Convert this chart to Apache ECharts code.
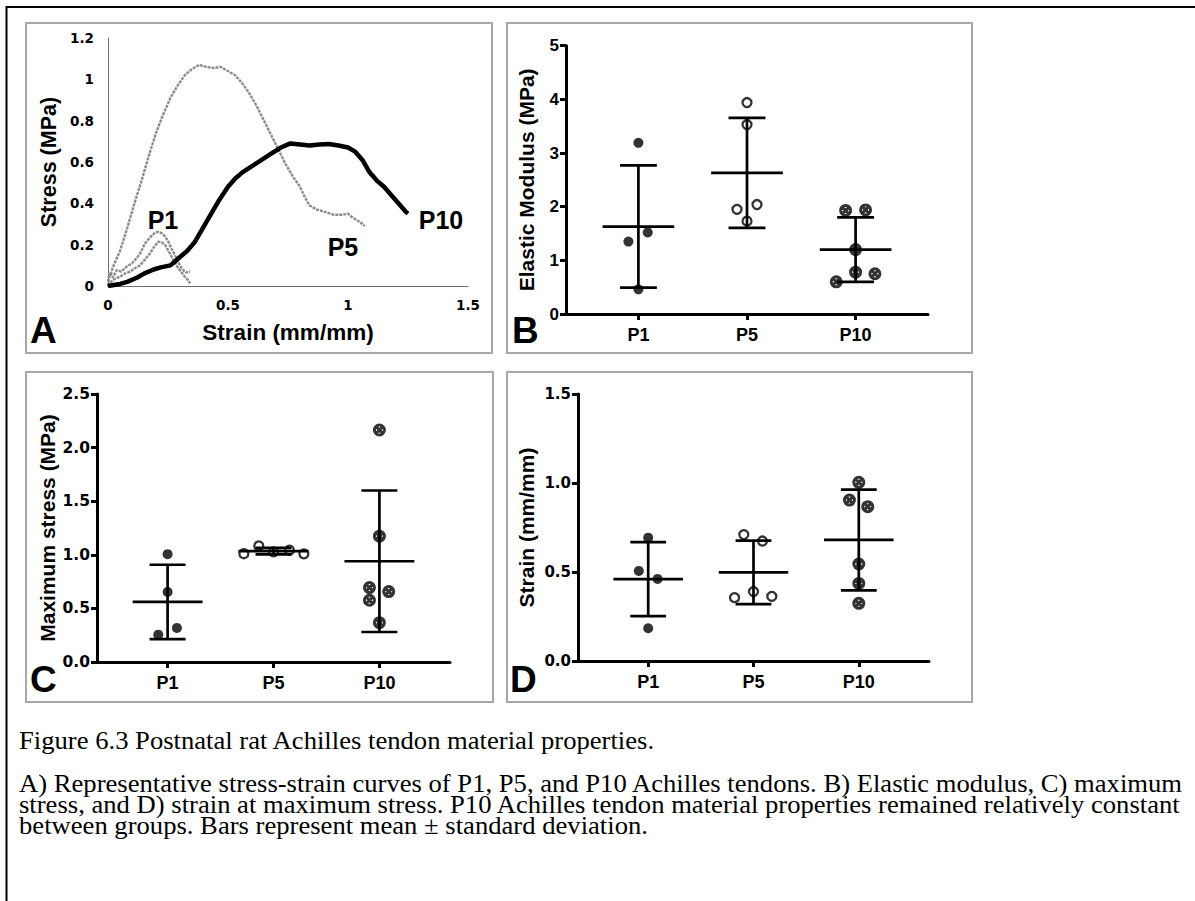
<!DOCTYPE html>
<html><head><meta charset="utf-8">
<script src="https://cdn.jsdelivr.net/npm/echarts@6/dist/echarts.min.js"></script>
<style>html,body{margin:0;padding:0;background:#fff;}#c{width:1195px;height:901px;}</style>
</head><body><div id="c"></div>
<script>
// ---------- DATA ----------
const groups = ['P1', 'P5', 'P10'];

// Panel A: representative stress-strain curves [strain (mm/mm), stress (MPa)]
const curveP1a = [[0,0.02],[0.01,0.06],[0.02,0.04],[0.036,0.077],[0.055,0.07],[0.078,0.094],[0.10,0.11],[0.119,0.134],[0.135,0.16],[0.154,0.206],[0.175,0.235],[0.196,0.258],[0.21,0.262],[0.224,0.255],[0.238,0.24],[0.251,0.215],[0.265,0.18],[0.279,0.15],[0.293,0.115],[0.307,0.085],[0.325,0.065],[0.342,0.07]];
const curveP1b = [[0,0],[0.02,0.03],[0.05,0.045],[0.07,0.06],[0.092,0.069],[0.11,0.085],[0.133,0.1],[0.155,0.13],[0.175,0.158],[0.193,0.19],[0.21,0.215],[0.225,0.21],[0.238,0.198],[0.252,0.17],[0.265,0.142],[0.28,0.11],[0.293,0.085],[0.307,0.065],[0.32,0.045],[0.332,0.03],[0.342,0.013]];
const curveP5 = [[0,0],[0.005,0.06],[0.01,0.05],[0.02,0.09],[0.05,0.17],[0.08,0.28],[0.11,0.40],[0.14,0.51],[0.17,0.63],[0.20,0.74],[0.23,0.83],[0.26,0.91],[0.29,0.97],[0.32,1.02],[0.35,1.05],[0.38,1.07],[0.41,1.06],[0.44,1.055],[0.47,1.06],[0.50,1.04],[0.53,1.02],[0.56,0.98],[0.59,0.93],[0.62,0.87],[0.65,0.80],[0.68,0.73],[0.71,0.66],[0.74,0.59],[0.77,0.53],[0.80,0.48],[0.82,0.43],[0.84,0.39],[0.87,0.37],[0.90,0.36],[0.94,0.345],[0.98,0.345],[1.00,0.35],[1.02,0.33],[1.05,0.31],[1.07,0.29]];
const curveP10 = [[0,0],[0.05,0.01],[0.08,0.02],[0.12,0.04],[0.15,0.06],[0.19,0.08],[0.22,0.09],[0.26,0.10],[0.28,0.12],[0.30,0.14],[0.33,0.17],[0.36,0.21],[0.40,0.29],[0.43,0.35],[0.46,0.41],[0.50,0.48],[0.53,0.52],[0.56,0.55],[0.60,0.58],[0.64,0.61],[0.68,0.64],[0.72,0.67],[0.76,0.69],[0.80,0.685],[0.84,0.68],[0.88,0.685],[0.92,0.687],[0.96,0.68],[1.00,0.67],[1.03,0.65],[1.06,0.61],[1.09,0.55],[1.12,0.51],[1.15,0.48],[1.18,0.44],[1.21,0.40],[1.24,0.36],[1.25,0.35]];
// curve annotation labels [text, strain, stress]
const curveLabels = [['P1',0.229,0.319],['P5',0.979,0.189],['P10',1.3875,0.319]];

// Panel B: elastic modulus (MPa)
const modP1 = [3.19,1.35,1.52,0.46];
const modP1Jit = [0,-0.092,0.086,0];
const modP5 = [3.94,3.53,1.95,2.04,1.73];
const modP5Jit = [0,0,-0.092,0.092,0];
const modP10 = [1.93,1.94,1.20,0.78,0.75,0.60];
const modP10Jit = [-0.092,0.092,0,0,0.178,-0.178];
const modMean = [1.63,2.63,1.20];
const modSD = [1.14,1.025,0.60];

// Panel C: maximum stress (MPa)
const msP1 = [1.006,0.654,0.318,0.255];
const msP1Jit = [0,0,0.088,-0.088];
const msP5 = [1.01,1.083,1.027,1.043,1.009];
const msP5Jit = [-0.28,-0.139,0,0.151,0.287];
const msP10 = [2.164,1.174,0.694,0.657,0.576,0.367];
const msP10Jit = [0,0,-0.094,0.088,-0.094,0];
const msMean = [0.56,1.034,0.94];
const msSD = [0.347,0.03,0.66];

// Panel D: strain at maximum stress (mm/mm)
const stP1 = [0.693,0.506,0.461,0.184];
const stP1Jit = [0,-0.089,0.089,0];
const stP5 = [0.71,0.674,0.356,0.39,0.363];
const stP5Jit = [-0.092,0.085,-0.18,0,0.174];
const stP10 = [1.004,0.904,0.867,0.545,0.436,0.324];
const stP10Jit = [0,-0.089,0.085,0,0,0];
const stMean = [0.46,0.498,0.68];
const stSD = [0.208,0.178,0.283];

const captionLines = [
  'Figure 6.3 Postnatal rat Achilles tendon material properties.',
  'A) Representative stress-strain curves of P1, P5, and P10 Achilles tendons. B) Elastic modulus, C) maximum',
  'stress, and D) strain at maximum stress. P10 Achilles tendon material properties remained relatively constant',
  'between groups. Bars represent mean \u00b1 standard deviation.'
];

// ---------- CHART ----------
const SANS = 'Liberation Sans, Arial, sans-serif';
const WIDE = 'DejaVu Sans, sans-serif';
const SERIF = 'Liberation Serif, Times New Roman, serif';
const MEAN_HALF = 0.33, CAP_HALF = 0.17;
const crossSymbol = 'path://M10 0A10 10 0 1 1 10 20A10 10 0 1 1 10 0Z M3 3L17 17 M17 3L3 17';

function pts(vals, jit, idx) { return vals.map((v, i) => [idx + 1 + jit[i], v]); }

function errRender(params, api) {
  const x = api.value(0), m = api.value(1), s = api.value(2);
  const p = (a, b) => api.coord([a, b]);
  const st = { stroke: '#000', lineWidth: 2.7, fill: null };
  const L = (a, b) => ({ type: 'line', shape: { x1: a[0], y1: a[1], x2: b[0], y2: b[1] }, style: st });
  return { type: 'group', children: [
    L(p(x - MEAN_HALF, m), p(x + MEAN_HALF, m)),
    L(p(x, m - s), p(x, m + s)),
    L(p(x - CAP_HALF, m + s), p(x + CAP_HALF, m + s)),
    L(p(x - CAP_HALF, m - s), p(x + CAP_HALF, m - s))
  ]};
}

function catX(gi) {
  return {
    type: 'value', gridIndex: gi, min: 1/3, max: 11/3,
    axisLine: { show: true, onZero: false, lineStyle: { color: '#000', width: 3 } },
    axisTick: { show: true, customValues: [1,2,3], length: 6, lineStyle: { color: '#000', width: 3 } },
    axisLabel: { customValues: [1,2,3], formatter: v => groups[Math.round(v) - 1], margin: 12,
      color: '#000', fontWeight: 'bold', fontSize: 18, fontFamily: SANS },
    splitLine: { show: false }
  };
}
function valY(gi, max, interval, name, gap, dec, lblFont, lblSize) {
  return {
    type: 'value', gridIndex: gi, min: 0, max: max, interval: interval,
    name: name, nameLocation: 'middle', nameGap: gap,
    nameTextStyle: { color: '#000', fontWeight: 'bold', fontSize: 21, fontFamily: SANS },
    axisLine: { show: true, onZero: false, lineStyle: { color: '#000', width: 3 } },
    axisTick: { show: true, length: 6, lineStyle: { color: '#000', width: 3 } },
    axisLabel: { formatter: v => v.toFixed(dec), margin: 7, color: '#000', fontWeight: 'bold', fontSize: lblSize, fontFamily: lblFont },
    splitLine: { show: false }
  };
}

function dotSeries(gi, data, kind) {
  const base = { type: 'scatter', xAxisIndex: gi, yAxisIndex: gi, data: data, z: 2, silent: true };
  if (kind === 0) return Object.assign(base, { symbol: 'circle', symbolSize: 10, itemStyle: { color: '#000' } });
  if (kind === 1) return Object.assign(base, { symbol: 'circle', symbolSize: 9, itemStyle: { color: '#fff', borderColor: '#000', borderWidth: 2.3 } });
  return Object.assign(base, { symbol: crossSymbol, symbolSize: 10, itemStyle: { color: '#fff', borderColor: '#000', borderWidth: 3 } });
}
function errSeries(gi, mean, sd) {
  return { type: 'custom', xAxisIndex: gi, yAxisIndex: gi, z: 5, silent: true, renderItem: errRender,
    data: groups.map((g, i) => [i + 1, mean[i], sd[i]]) };
}

const chart = echarts.init(document.getElementById('c'), null, { renderer: 'svg' });

const panelBox = (x, y, w, h) => ({ type: 'rect', shape: { x: x, y: y, width: w, height: h }, style: { fill: 'none', stroke: '#a8a8a8', lineWidth: 2 }, z: 0 });
const letter = (t, x, y) => ({ type: 'text', x: x, y: y, style: { text: t, fill: '#000', fontSize: 37, fontWeight: 'bold', fontFamily: SANS, textAlign: 'left', textVerticalAlign: 'middle' }, z: 10 });

const option = {
  backgroundColor: '#fff',
  animation: false,
  grid: [
    { left: 108, top: 38, width: 360, height: 248 },
    { left: 566, top: 45.7, width: 362, height: 268.3 },
    { left: 97, top: 394, width: 353, height: 268 },
    { left: 578, top: 394, width: 351, height: 267 }
  ],
  xAxis: [
    { type: 'value', gridIndex: 0, min: 0, max: 1.5, interval: 0.5,
      name: 'Strain (mm/mm)', nameLocation: 'middle', nameGap: 35,
      nameTextStyle: { color: '#000', fontWeight: 'bold', fontSize: 22.5, fontFamily: SANS },
      axisLine: { show: true, onZero: false, lineStyle: { color: '#6e6e6e', width: 1 } },
      axisTick: { show: false },
      axisLabel: { formatter: v => String(+v.toFixed(1)), margin: 12, color: '#000', fontWeight: 'bold', fontSize: 13.5, fontFamily: WIDE },
      splitLine: { show: false } },
    catX(1), catX(2), catX(3)
  ],
  yAxis: [
    { type: 'value', gridIndex: 0, min: 0, max: 1.2, interval: 0.2,
      name: 'Stress (MPa)', nameLocation: 'middle', nameGap: 48,
      nameTextStyle: { color: '#000', fontWeight: 'bold', fontSize: 21.5, fontFamily: SANS },
      axisLine: { show: true, onZero: false, lineStyle: { color: '#6e6e6e', width: 1 } },
      axisTick: { show: false },
      axisLabel: { formatter: v => String(+v.toFixed(1)), margin: 14, color: '#000', fontWeight: 'bold', fontSize: 13.5, fontFamily: WIDE },
      splitLine: { show: false } },
    valY(1, 5, 1, 'Elastic Modulus (MPa)', 29, 0, SANS, 17),
    valY(2, 2.5, 0.5, 'Maximum stress (MPa)', 39, 1, WIDE, 15.5),
    valY(3, 1.5, 0.5, 'Strain (mm/mm)', 41, 1, WIDE, 15)
  ],
  series: [
    { type: 'line', name: 'P5', xAxisIndex: 0, yAxisIndex: 0, data: curveP5, showSymbol: false, symbol: 'none', lineStyle: { color: '#8c8c8c', width: 2.4, type: [3, 1] }, z: 2 },
    { type: 'line', name: 'P1a', xAxisIndex: 0, yAxisIndex: 0, data: curveP1a, showSymbol: false, symbol: 'none', lineStyle: { color: '#8c8c8c', width: 2.4, type: [3, 1] }, z: 2 },
    { type: 'line', name: 'P1b', xAxisIndex: 0, yAxisIndex: 0, data: curveP1b, showSymbol: false, symbol: 'none', lineStyle: { color: '#8c8c8c', width: 2.4, type: [3, 1] }, z: 2 },
    { type: 'line', name: 'P10', xAxisIndex: 0, yAxisIndex: 0, data: curveP10, showSymbol: false, symbol: 'none', lineStyle: { color: '#000', width: 4.5 }, z: 3 },
    { type: 'scatter', xAxisIndex: 0, yAxisIndex: 0, symbolSize: 0.01, itemStyle: { color: '#000' }, z: 4, silent: true,
      data: curveLabels.map(c => ({ name: c[0], value: [c[1], c[2]] })),
      label: { show: true, position: 'inside', formatter: p => p.name, color: '#000', opacity: 1, textBorderWidth: 0, fontWeight: 'bold', fontSize: 25, fontFamily: SANS } },

    dotSeries(1, pts(modP1, modP1Jit, 0), 0),
    dotSeries(1, pts(modP5, modP5Jit, 1), 1),
    dotSeries(1, pts(modP10, modP10Jit, 2), 2),
    errSeries(1, modMean, modSD),

    dotSeries(2, pts(msP1, msP1Jit, 0), 0),
    dotSeries(2, pts(msP5, msP5Jit, 1), 1),
    dotSeries(2, pts(msP10, msP10Jit, 2), 2),
    errSeries(2, msMean, msSD),

    dotSeries(3, pts(stP1, stP1Jit, 0), 0),
    dotSeries(3, pts(stP5, stP5Jit, 1), 1),
    dotSeries(3, pts(stP10, stP10Jit, 2), 2),
    errSeries(3, stMean, stSD)
  ],
  graphic: [
    { type: 'line', shape: { x1: 6, y1: 7, x2: 1195, y2: 7 }, style: { stroke: '#000', lineWidth: 2 }, z: 0 },
    { type: 'line', shape: { x1: 6.5, y1: 6, x2: 6.5, y2: 901 }, style: { stroke: '#000', lineWidth: 2 }, z: 0 },
    panelBox(26, 23, 466, 330),
    panelBox(507, 23, 465, 330),
    panelBox(26, 372, 467, 330),
    panelBox(507, 372, 465, 330),
    letter('A', 30, 330),
    letter('B', 512, 330),
    letter('C', 30, 679),
    letter('D', 510, 679)
  ].concat(captionLines.map((t, i) => ({
    type: 'text', x: 19, y: [741, 784, 805, 826][i], z: 10, scaleX: 1.087,
    style: { text: t, fill: '#000', fontSize: 24.5, lineHeight: 20, fontFamily: SERIF, textAlign: 'left', textVerticalAlign: 'middle' }
  })))
};
chart.setOption(option);
</script>
</body></html>
